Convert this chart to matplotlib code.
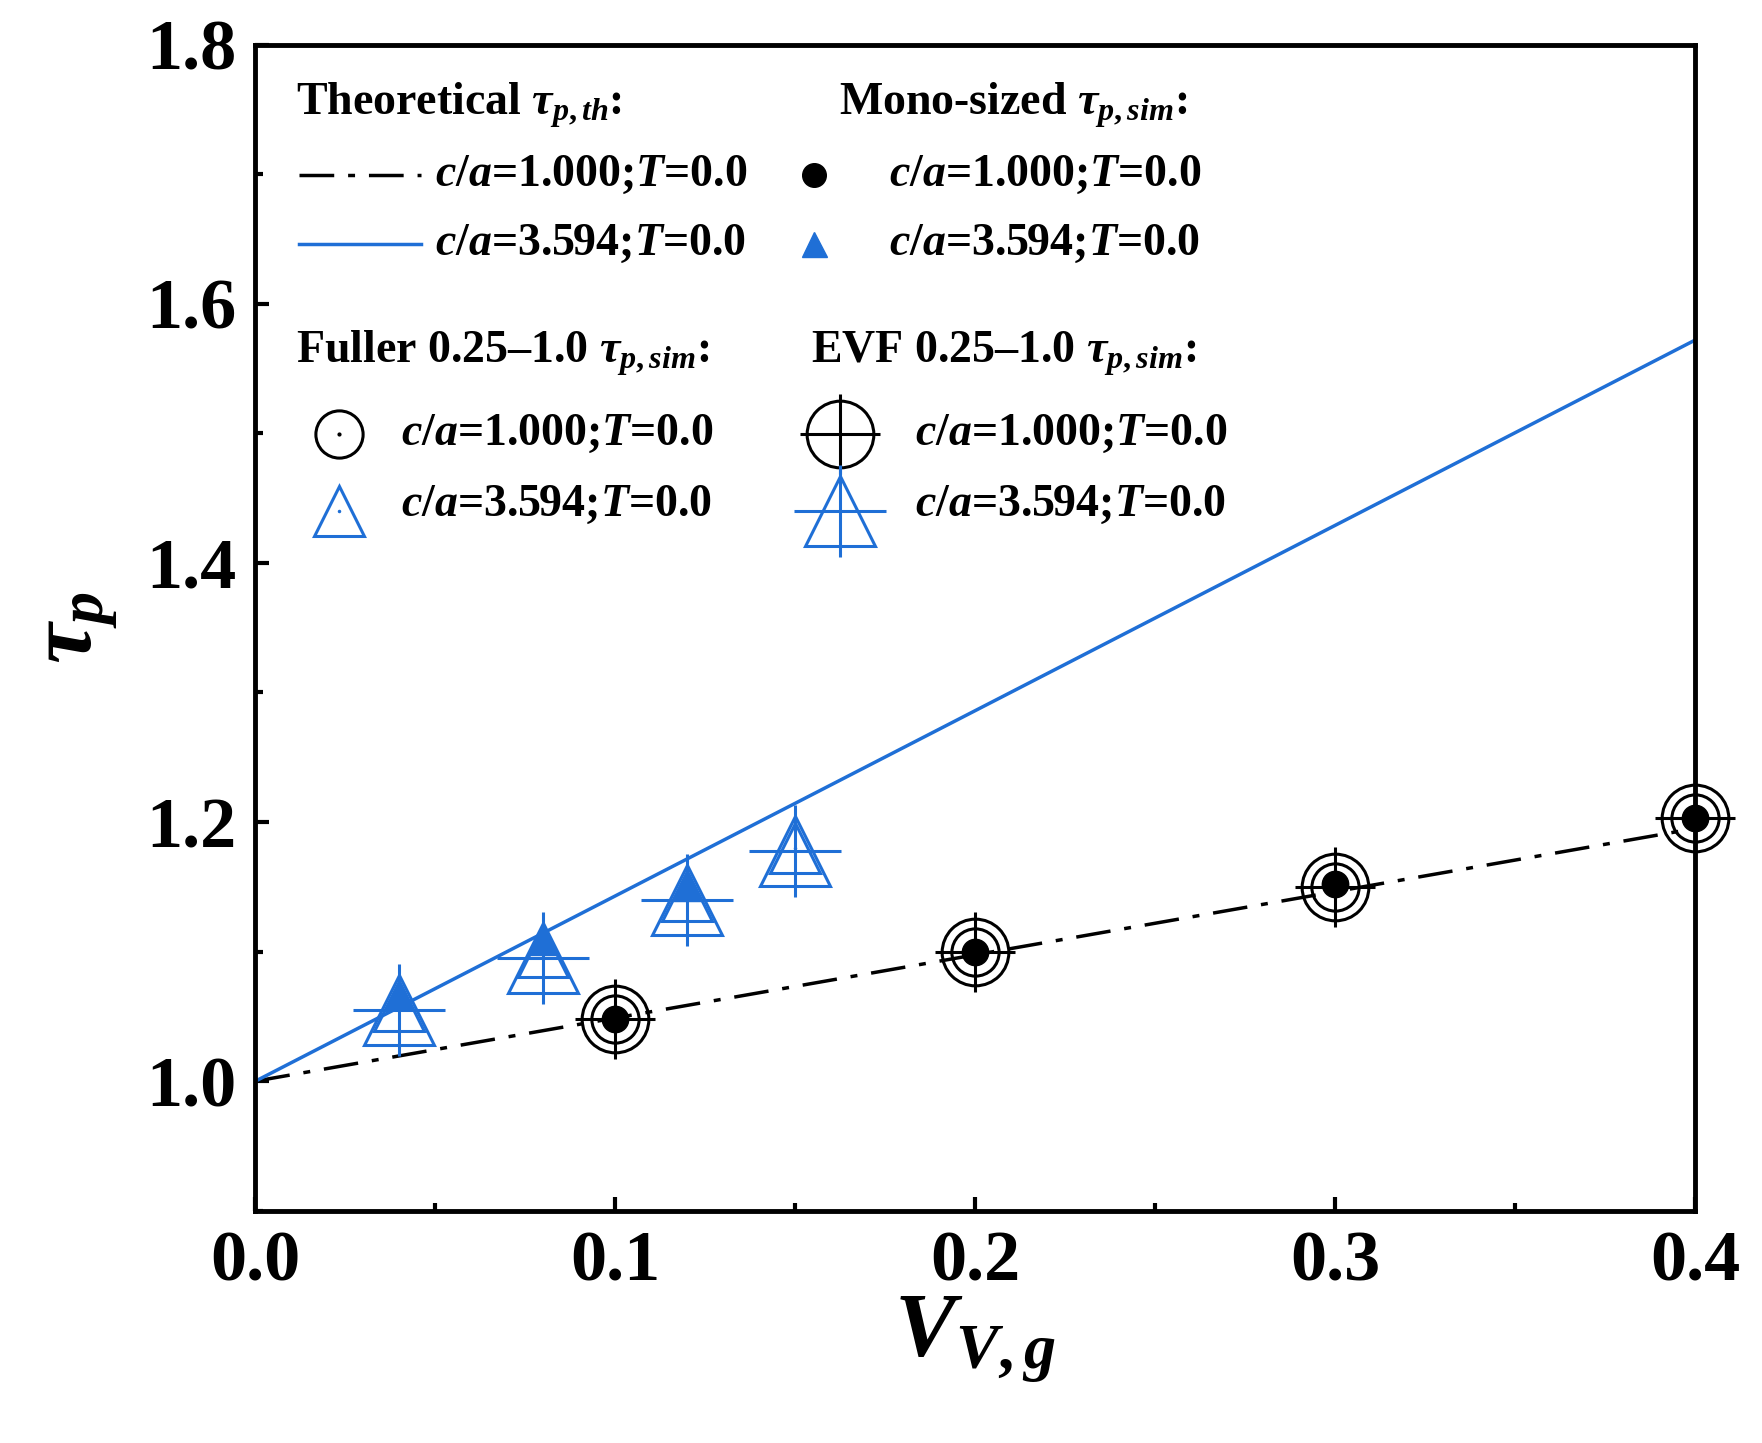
import matplotlib
matplotlib.use("Agg")
import matplotlib.pyplot as plt
from matplotlib.ticker import MultipleLocator

plt.rcParams['font.family'] = 'Liberation Serif'
plt.rcParams['font.weight'] = 'bold'
plt.rcParams['mathtext.fontset'] = 'custom'
plt.rcParams['mathtext.it'] = 'Liberation Serif:bold:italic'
plt.rcParams['mathtext.rm'] = 'Liberation Serif:bold'
plt.rcParams['mathtext.bf'] = 'Liberation Serif:bold'

BLUE = '#1f6fd6'
# Theoretical lines
th_x = [0.0, 0.4]
th_y_sphere = [1.0, 1.195]
th_y_ell = [1.0, 1.572]
# Mono-sized
mono_x_s = [0.1, 0.2, 0.3, 0.4]
mono_y_s = [1.048, 1.100, 1.152, 1.203]
mono_x_e = [0.04, 0.08, 0.12]
mono_y_e = [1.066, 1.108, 1.150]
# Fuller
ful_x_s = [0.1, 0.2, 0.3, 0.4]
ful_y_s = [1.048, 1.100, 1.150, 1.203]
ful_x_e = [0.04, 0.08, 0.12, 0.15]
ful_y_e = [1.058, 1.100, 1.143, 1.180]
# EVF
evf_x_s = [0.1, 0.2, 0.3, 0.4]
evf_y_s = [1.048, 1.100, 1.150, 1.203]
evf_x_e = [0.04, 0.08, 0.12, 0.15]
evf_y_e = [1.055, 1.095, 1.140, 1.178]

DASH = (10, 4, 2, 4)
fig = plt.figure(figsize=(17.62, 14.43), dpi=100)
ax = fig.add_axes([0.145, 0.161, 0.817, 0.808])

ax.plot(th_x, th_y_sphere, color='black', lw=2.5, dashes=DASH)
ax.plot(th_x, th_y_ell, color=BLUE, lw=2.5)

def evf_s(x, y, **kw):
    ax.plot(x, y, ls='none', marker='o', ms=48, mfc='none', mec='black', mew=2.2, clip_on=False, **kw)
    ax.plot(x, y, ls='none', marker='+', ms=58, mec='black', mew=2.2, clip_on=False, **kw)
def evf_e(x, y, **kw):
    ax.plot(x, y, ls='none', marker='^', ms=50, mfc='none', mec=BLUE, mew=2.2, clip_on=False, **kw)
    ax.plot(x, y, ls='none', marker='+', ms=66, mec=BLUE, mew=2.2, clip_on=False, **kw)
def ful_s(x, y, **kw):
    ax.plot(x, y, ls='none', marker='o', ms=34, mfc='none', mec='black', mew=2.2, clip_on=False, **kw)
    ax.plot(x, y, ls='none', marker='.', ms=4, color='black', clip_on=False, **kw)
def ful_e(x, y, **kw):
    ax.plot(x, y, ls='none', marker='^', ms=36, mfc='none', mec=BLUE, mew=2.2, clip_on=False, **kw)
    ax.plot(x, y, ls='none', marker='.', ms=3, color=BLUE, clip_on=False, **kw)

evf_s(evf_x_s, evf_y_s)
evf_e(evf_x_e, evf_y_e)
ful_s(ful_x_s, ful_y_s)
ful_e(ful_x_e, ful_y_e)
ax.plot(mono_x_s, mono_y_s, ls='none', marker='o', ms=19, color='black', clip_on=False)
ax.plot(mono_x_e, mono_y_e, ls='none', marker='^', ms=20, color=BLUE)

ax.set_xlim(0, 0.4)
ax.set_ylim(0.9, 1.8)
ax.xaxis.set_major_locator(MultipleLocator(0.1))
ax.xaxis.set_minor_locator(MultipleLocator(0.05))
ax.set_yticks([1.0, 1.2, 1.4, 1.6, 1.8])
ax.yaxis.set_minor_locator(MultipleLocator(0.1))
ax.tick_params(which='both', direction='in', width=3, labelsize=52, pad=14)
ax.tick_params(which='major', length=10)
ax.tick_params(which='minor', length=6)
for s in ax.spines.values():
    s.set_linewidth(3.5)
ax.set_xlabel(r'$V_{V,g}$', fontsize=66, labelpad=0)
ax.set_ylabel(r'$\tau_p$', fontsize=66, labelpad=18)

# Legend (drawn in axes coordinates)
T = ax.transAxes
lab = r'$c/a$=%s;$T$=0.0'
fs = 33
def txt(x, y, s):
    ax.text(x, y, s, transform=T, fontsize=fs, va='center', ha='left')

rows = [0.948, 0.888, 0.829, 0.735, 0.666, 0.605]
txt(0.028, rows[0], r'Theoretical $\tau_{p,th}$:')
ax.plot([0.03, 0.115], [rows[1]] * 2, transform=T, color='black', lw=2.5, dashes=DASH)
ax.plot([0.03, 0.115], [rows[2]] * 2, transform=T, color=BLUE, lw=2.5)
txt(0.125, rows[1], lab % '1.000')
txt(0.125, rows[2], lab % '3.594')

txt(0.028, rows[3], r'Fuller 0.25–1.0 $\tau_{p,sim}$:')
ful_s([0.058], [rows[4]], transform=T)
ful_e([0.058], [rows[5] - 0.005], transform=T)
txt(0.101, rows[4], lab % '1.000')
txt(0.101, rows[5], lab % '3.594')

txt(0.405, rows[0], r'Mono-sized $\tau_{p,sim}$:')
ax.plot([0.388], [rows[1]], transform=T, ls='none', marker='o', ms=17, color='black')
ax.plot([0.388], [rows[2]], transform=T, ls='none', marker='^', ms=18, color=BLUE)
txt(0.44, rows[1], lab % '1.000')
txt(0.44, rows[2], lab % '3.594')

txt(0.386, rows[3], r'EVF 0.25–1.0 $\tau_{p,sim}$:')
evf_s([0.406], [rows[4]], transform=T)
evf_e([0.406], [rows[5] - 0.005], transform=T)
txt(0.458, rows[4], lab % '1.000')
txt(0.458, rows[5], lab % '3.594')

fig.savefig('out.png', dpi=100)
